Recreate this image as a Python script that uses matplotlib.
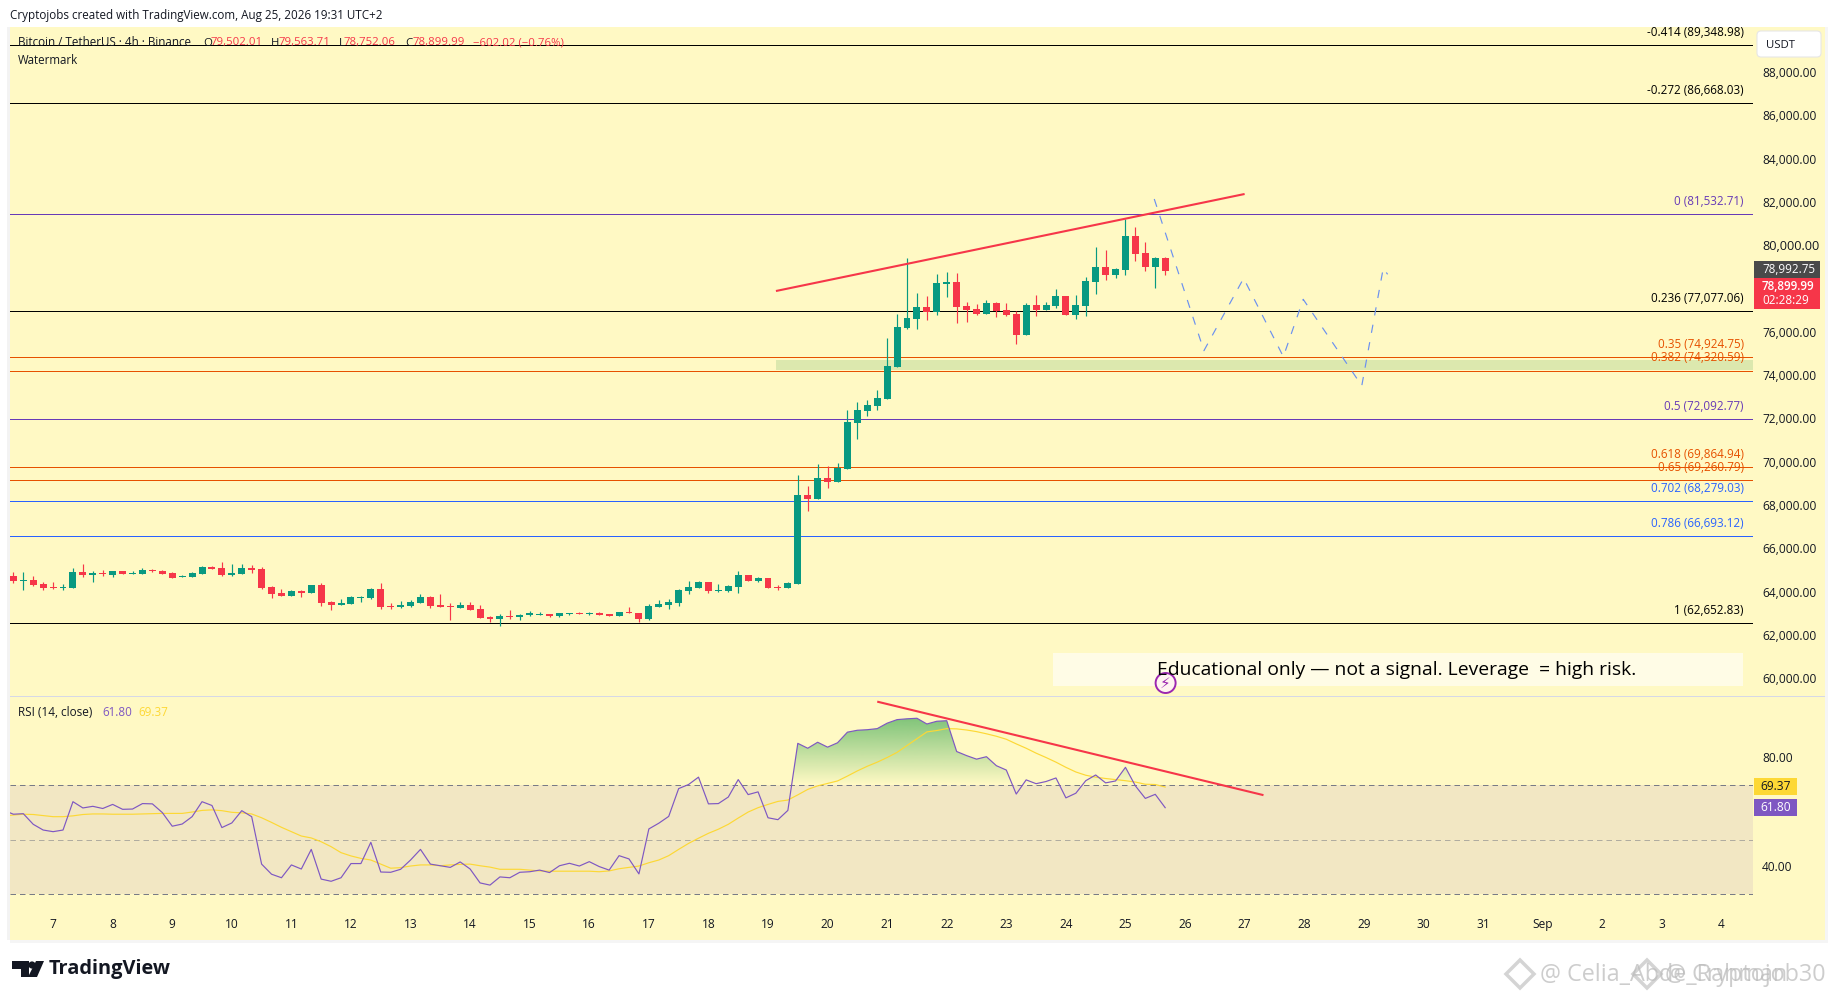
import numpy as np
import matplotlib
matplotlib.use('Agg')
import matplotlib.pyplot as plt
import matplotlib.transforms as mtrans
from matplotlib.patches import Rectangle, FancyBboxPatch, Circle, Polygon
from matplotlib.path import Path

plt.rcParams['font.family'] = ['Open Sans', 'DejaVu Sans']

# 4h candles
opens = [64834, 64618, 64649, 64464, 64326, 64280, 64280, 65018, 64880, 64972, 64880, 65064, 64926, 64926, 65111,
         65064, 64972, 64787, 64787, 64926, 65249, 65203, 64880, 64926, 65203, 65157, 64326, 64049, 63910, 64141,
         64049, 64418, 63633, 63495, 63541, 63818, 63818, 64233, 63449, 63402, 63449, 63587, 63864, 63495, 63449,
         63356, 63495, 63310, 62941, 62848, 62987, 62941, 63033, 63033, 63079, 62987, 63079, 63125, 63079, 63125,
         63079, 62987, 63172, 63125, 62848, 63402, 63495, 63587, 64141, 64279, 64556, 64141, 64141, 64326, 64880,
         64603, 64741, 64326, 64279, 64464, 68573, 68389, 69358, 69173, 69774, 71897, 72451, 72681, 73005, 74483,
         76283, 76699, 77253, 77022, 78315, 78407, 77299, 77161, 76930, 77437, 77114, 76930, 75960, 77345, 77114,
         77299, 77761, 76883, 77299, 78407, 79100, 78730, 78961, 80531, 79746, 79100, 79502.01]
highs = [65018, 65018, 64834, 64557, 64557, 64464, 65203, 65388, 65064, 65111, 65064, 65064, 65064, 65203, 65157,
         65111, 65018, 64880, 65018, 65295, 65295, 65480, 65388, 65388, 65341, 65249, 64372, 64233, 64187, 64187,
         64418, 64510, 63679, 63772, 63910, 63910, 64280, 64510, 63587, 63679, 63726, 64003, 63910, 64003, 63587,
         63633, 63633, 63495, 62987, 63079, 63264, 63079, 63218, 63172, 63079, 63125, 63125, 63172, 63172, 63172,
         63079, 63172, 63402, 63125, 63541, 63725, 63772, 64233, 64603, 64603, 64556, 64464, 64418, 65064, 64880,
         64787, 64741, 64418, 64556, 69497, 68989, 70004, 69912, 70051, 72497, 72866, 72959, 73420, 75822, 76929,
         79515, 77899, 77761, 78776, 78869, 78823, 77484, 77391, 77576, 77484, 77437, 77068, 77437, 77807, 77484,
         78084, 77761, 77807, 78638, 80023, 79885, 79053, 81316, 80946, 80254, 79561, 79563.71]
lows = [64510, 64187, 64372, 64187, 64218, 64187, 64280, 64787, 64557, 64834, 64787, 64926, 64926, 64926, 65018,
        64926, 64741, 64787, 64787, 64926, 65157, 64834, 64834, 64926, 64972, 64233, 63818, 63910, 63910, 63864,
        64049, 63449, 63264, 63495, 63541, 63633, 63772, 63310, 63310, 63356, 63402, 63587, 63356, 63402, 62802,
        63356, 63264, 62895, 62710, 62525, 62848, 62802, 62987, 63033, 62941, 62941, 63033, 63079, 63033, 63033,
        62987, 62987, 63125, 62710, 62802, 63402, 63310, 63448, 64002, 64279, 64049, 64095, 64095, 64049, 64603,
        64556, 64279, 64187, 64279, 64464, 67835, 68389, 68896, 69173, 69774, 71159, 72220, 72497, 73005, 74483,
        76237, 76237, 76653, 76883, 77715, 76514, 76560, 76883, 76930, 76791, 76837, 75545, 75960, 76837, 77114,
        77207, 76883, 76699, 76837, 77853, 78499, 78592, 78730, 79377, 78915, 78130, 78752.06]
closes = [64603, 64649, 64418, 64280, 64280, 64326, 65018, 64880, 64972, 64926, 65064, 64926, 64972, 65111, 65064,
          64926, 64741, 64834, 64972, 65249, 65157, 64880, 64972, 65203, 65111, 64280, 64003, 63910, 64141, 64049,
          64418, 63587, 63495, 63587, 63864, 63864, 64233, 63402, 63402, 63495, 63633, 63864, 63449, 63402, 63402,
          63495, 63264, 62895, 62848, 62987, 62941, 63033, 63125, 63079, 62987, 63125, 63125, 63079, 63125, 63033,
          62987, 63172, 63125, 62848, 63448, 63541, 63633, 64187, 64326, 64556, 64141, 64187, 64372, 64880, 64603,
          64741, 64279, 64279, 64510, 68573, 68389, 69358, 69173, 69820, 71943, 72497, 72728, 73051, 74529, 76329,
          76745, 77253, 77022, 78361, 78407, 77253, 77114, 76930, 77437, 77068, 76883, 75960, 77345, 77114, 77345,
          77761, 76883, 77345, 78453, 79100, 78730, 79007, 80531, 79700, 79100, 79502, 78899.99]

# RSI starts one bar before the first visible candle
rsi_values = [60.9, 59.4, 59.6, 55.7, 53.6, 53.0, 53.6, 64.0, 61.7, 62.3, 61.5, 63.0, 61.2, 61.3, 63.3, 63.2, 60.0, 55.0,
              55.8, 58.5, 64.0, 62.6, 54.5, 56.2, 60.7, 58.5, 41.1, 37.4, 36.1, 40.8, 39.3, 46.5, 35.6, 34.8, 36.1,
              41.3, 41.3, 49.1, 38.2, 38.1, 39.2, 42.6, 46.5, 41.1, 40.5, 39.9, 41.9, 39.3, 34.2, 33.4, 36.4, 36.1,
              38.1, 38.3, 38.9, 38.0, 40.5, 41.4, 40.4, 42.0, 40.2, 38.9, 44.2, 43.0, 37.5, 54.0, 56.1, 58.6, 68.8,
              70.3, 73.0, 63.2, 63.3, 65.7, 72.1, 66.6, 67.6, 58.1, 57.4, 60.8, 85.4, 83.6, 85.8, 84.0, 85.6, 89.5,
              90.2, 90.4, 90.8, 92.8, 94.1, 94.4, 94.6, 92.5, 93.5, 93.7, 82.4, 80.9, 79.6, 80.5, 77.2, 75.6, 66.8,
              72.0, 70.6, 71.4, 72.7, 65.4, 67.1, 71.7, 73.8, 70.9, 71.6, 76.6, 69.8, 65.2, 66.7, 61.8]
rsi_ma = [58.7, 59.1, 59.4, 59.3, 58.9, 58.5, 58.5, 58.8, 59.3, 59.5, 59.5, 59.4, 59.4, 59.4, 59.5, 59.6, 59.7, 59.7,
          59.7, 60.2, 60.8, 61.0, 60.7, 60.1, 59.9, 59.5, 58.1, 56.4, 54.6, 53.0, 51.4, 50.7, 49.3, 47.5, 45.3, 44.1,
          43.2, 42.6, 41.1, 39.6, 39.8, 40.4, 40.8, 40.8, 40.5, 40.8, 41.0, 41.1, 40.5, 40.0, 39.2, 39.2, 39.2, 38.9,
          38.6, 38.5, 38.5, 38.5, 38.5, 38.5, 38.3, 38.6, 39.4, 39.9, 40.4, 41.6, 42.6, 44.2, 46.5, 48.7, 50.6, 52.4,
          53.9, 55.7, 58.0, 60.2, 61.8, 63.0, 64.1, 64.6, 66.5, 68.5, 69.8, 70.7, 71.6, 73.4, 75.3, 77.0, 78.5, 80.2,
          82.1, 84.6, 87.1, 89.6, 90.1, 90.8, 90.7, 90.3, 89.7, 88.9, 88.0, 86.9, 85.2, 83.6, 81.8, 80.2, 78.5, 76.6,
          74.9, 73.7, 73.0, 72.5, 72.1, 71.7, 71.2, 70.4, 70.3, 69.37]

fib_labels = ['-0.414', '-0.272', '0', '0.236', '0.35', '0.382', '0.5', '0.618', '0.65', '0.702', '0.786', '1']
fib_prices = [89348.98, 86668.03, 81532.71, 77077.06, 74924.75, 74320.59, 72092.77, 69864.94, 69260.79, 68279.03,
              66693.12, 62652.83]
fib_colors = ['#000000', '#000000', '#673ab7', '#000000', '#e65100', '#e65100', '#673ab7', '#e65100', '#e65100',
              '#2962ff', '#2962ff', '#000000']

price_ticks = list(range(60000, 90000, 2000))
rsi_ticks = [40, 80]
day_labels = ['7', '8', '9', '10', '11', '12', '13', '14', '15', '16', '17', '18', '19', '20', '21', '22', '23', '24',
              '25', '26', '27', '28', '29', '30', '31', 'Sep', '2', '3', '4']

# hand drawn things on the chart (candle index, price)
trend_x = [76.8, 124.0]
trend_y = [77991, 82470]
path_x = [114.9, 119.9, 123.9, 127.9, 129.9, 135.8, 137.96, 138.4]
path_y = [82239, 75235, 78578, 74958, 77608, 73619, 79040, 78762]
zone_x = 76.8
zone_low, zone_high = 74344, 74805
rsi_trend_x = [87.0, 125.9]
rsi_trend_y = [100.7, 66.4]

GREEN = '#089981'
RED = '#f63649'
YELLOW_BG = '#fff9c4'
W, H = 1835, 1000


def rect(x0, y0, x1, y1):
    # pixel box -> figure fraction, y from the top
    return [x0 / W, 1 - y1 / H, (x1 - x0) / W, (y1 - y0) / H]


fig = plt.figure(figsize=(W / 100, H / 100), dpi=100, facecolor='white')

bg = fig.add_axes([0, 0, 1, 1], zorder=0)
bg.set_xlim(0, W)
bg.set_ylim(H, 0)
bg.axis('off')
bg.add_patch(Rectangle((10, 27), 1815, 913, fc=YELLOW_BG, ec='none'))
bg.add_patch(Rectangle((7, 27), 3, 913, fc='#f3f3f3', ec='none'))
bg.add_patch(Rectangle((1825, 27), 3, 913, fc='#f5f5f5', ec='none'))
bg.add_patch(Rectangle((10, 940), 1818, 3, fc='#f5f5f5', ec='none'))

ax = fig.add_axes(rect(10, 27, 1753, 696), zorder=1, facecolor='none')
ax_rsi = fig.add_axes(rect(10, 697, 1753, 908), zorder=1, facecolor='none')

x = np.arange(len(closes))
o = np.array(opens, dtype=float)
c = np.array(closes, dtype=float)
colors = [GREEN if cc >= oo else RED for oo, cc in zip(o, c)]

ax.vlines(x, lows, highs, colors=colors, linewidth=0.85, zorder=3)
ax.bar(x, np.abs(c - o), bottom=np.minimum(o, c), width=0.7, color=colors, linewidth=0, zorder=3)

ax.add_patch(Rectangle((zone_x, zone_low), 175.2 - zone_x, zone_high - zone_low, fc='#dce8ae', ec='none', zorder=1))

for lab, p, col in zip(fib_labels, fib_prices, fib_colors):
    ax.axhline(p, color=col, linewidth=0.72, zorder=2)
    ax.annotate(f'{lab} ({p:,.2f})', xy=(1744, p), xycoords=('figure pixels', 'data'), xytext=(0, 9.1),
                textcoords='offset points', ha='right', va='center', fontsize=8.4, color=col, zorder=4,
                annotation_clip=False)

ax.plot(trend_x, trend_y, color=RED, linewidth=1.5, zorder=5, solid_capstyle='butt')
ax.plot(path_x, path_y, color='#6a90f0', linewidth=0.85, dashes=(7, 8), zorder=5)

ax.set_xlim(-0.34, 175.2)
ax.set_ylim(59293, 90180)
ax.yaxis.tick_right()
ax.set_yticks(price_ticks)
ax.set_yticklabels([f'{t:,.2f}' for t in price_ticks])
ax.tick_params(axis='y', length=0, pad=6.5, labelsize=8.6, labelcolor='#131722')
ax.tick_params(axis='x', bottom=False, labelbottom=False)
for s in ax.spines.values():
    s.set_visible(False)
up = mtrans.ScaledTranslation(0, 2.3 / 100, fig.dpi_scale_trans)
for t, lab in zip(price_ticks, ax.get_yticklabels()):
    lab.set_transform(lab.get_transform() + up)
    if t == 80000:
        lab.set_fontsize(9.2)

# RSI pane
rsi_x = np.arange(-1, len(closes))
rsi = np.array(rsi_values)
ax_rsi.add_patch(Rectangle((-0.34, 30), 175.54, 40, fc='#f2e7c3', ec='none', zorder=1))
for lvl, col in [(70, '#787b86'), (50, '#b0aca0'), (30, '#787b86')]:
    ax_rsi.axhline(lvl, color=col, linewidth=0.72, dashes=(5.5, 4), zorder=2)

poly = ax_rsi.fill_between(rsi_x, rsi, 70, where=rsi > 70, interpolate=True, color='none')
clip = Path.make_compound_path(*poly.get_paths())
grad = np.zeros((64, 2, 4))
grad[..., 0] = 125 / 255
grad[..., 1] = 195 / 255
grad[..., 2] = 120 / 255
grad[..., 3] = np.linspace(1, 0, 64)[:, None]
im = ax_rsi.imshow(grad, extent=[0, len(x), 70, 95], aspect='auto', zorder=2, interpolation='bilinear')
im.set_clip_path(clip, transform=ax_rsi.transData)

ax_rsi.plot(rsi_x, rsi_ma, color='#fdd835', linewidth=0.85, zorder=3)
ax_rsi.plot(rsi_x, rsi, color='#7e57c2', linewidth=0.85, zorder=4)
ax_rsi.plot(rsi_trend_x, rsi_trend_y, color=RED, linewidth=1.5, zorder=5, solid_capstyle='butt')

ax_rsi.set_xlim(-0.34, 175.2)
ax_rsi.set_ylim(25, 102.4)
ax_rsi.yaxis.tick_right()
ax_rsi.set_yticks(rsi_ticks)
ax_rsi.set_yticklabels([f'{t:.2f}' for t in rsi_ticks])
ax_rsi.tick_params(axis='y', length=0, pad=6.5, labelsize=8.6, labelcolor='#131722')
ax_rsi.set_xticks([4 + 6 * n for n in range(len(day_labels))])
ax_rsi.set_xticklabels(day_labels)
ax_rsi.tick_params(axis='x', length=0, pad=7.5, labelsize=8.6, labelcolor='#131722')
for s in ax_rsi.spines.values():
    s.set_visible(False)
up_rsi = mtrans.ScaledTranslation(0, 1.5 / 100, fig.dpi_scale_trans)
for lab in ax_rsi.get_yticklabels():
    lab.set_transform(lab.get_transform() + up_rsi)

# overlay: header, price tags, logo, watermark (pixel coordinates)
top = fig.add_axes([0, 0, 1, 1], zorder=2, facecolor='none')
top.set_xlim(0, W)
top.set_ylim(H, 0)
top.axis('off')


def txt(px, py, s, color='#131722', size=8.4, ha='left', **kw):
    top.text(px, py, s, color=color, fontsize=size, ha=ha, va='center', **kw)


top.add_patch(Rectangle((10, 696), 1815, 1.2, fc='#d6d8e6', ec='none'))

txt(10, 15, 'Cryptojobs created with TradingView.com, Aug 25, 2026 19:31 UTC+2', size=8.35)
txt(18, 43, 'Bitcoin / TetherUS · 4h · Binance', size=8.4)
txt(18, 60, 'Watermark', size=8.3)
for px, s, col in [(203, 'O', '#131722'), (211, '79,502.01', RED), (271, 'H', '#131722'), (279, '79,563.71', RED),
                   (339, 'L', '#131722'), (344, '78,752.06', RED), (405, 'C', '#131722'), (413, '78,899.99', RED),
                   (473, '−602.02 (−0.76%)', RED)]:
    txt(px, 43, s, color=col, size=8.2)
txt(18, 712, 'RSI (14, close)', size=8.5)
txt(102, 712, '61.80', color='#7e57c2', size=8.4)
txt(138, 712, '69.37', color='#fdd835', size=8.4)

top.add_patch(FancyBboxPatch((1759, 33), 60, 22, boxstyle='round,pad=2,rounding_size=4', fc='white', ec='#e6e6e6', lw=0.8))
txt(1766, 45.5, 'USDT', size=8.2)

top.add_patch(Rectangle((1754, 261), 66, 17, fc='#4a4a4a', ec='none'))
txt(1762, 269.5, '78,992.75', color='white', size=8.4)
top.add_patch(Rectangle((1754, 278), 66, 31, fc=RED, ec='none'))
txt(1762, 286, '78,899.99', color='white', size=8.4, fontweight='semibold')
txt(1762, 300.5, '02:28:29', color='white', size=8.4)

top.add_patch(Rectangle((1754, 778), 43, 17, fc='#fdd835', ec='none'))
txt(1775.5, 786.5, '69.37', ha='center', size=8.6)
top.add_patch(Rectangle((1754, 799), 43, 17, fc='#7e57c2', ec='none'))
txt(1775.5, 807.5, '61.80', color='white', ha='center', size=8.6)

top.add_patch(Rectangle((1053, 653), 690, 33, fc='#fffce6', ec='none'))
txt(1157, 670, 'Educational only — not a signal. Leverage  = high risk.', color='#000000', size=13.85)
top.add_patch(Circle((1165.6, 683), 10, fc='#fff3f0', ec='#9c27b0', lw=1.4))
top.text(1165.6, 683, '⚡', color='#9c27b0', fontsize=11, ha='center', va='center', family='DejaVu Sans')

# TradingView logo
top.add_patch(Polygon([(12, 961), (29, 961), (29, 977), (21, 977), (21, 969), (12, 969)], fc='#131722', ec='none'))
top.add_patch(Circle((32, 965), 3.6, fc='#131722', ec='none'))
top.add_patch(Polygon([(36, 961), (44, 961), (37, 977), (28, 977)], fc='#131722', ec='none'))
txt(49, 969, 'TradingView', color='#131722', size=14.4, fontweight='bold')

# repost watermarks, two overlapping
for px in (1520, 1647):
    top.add_patch(Polygon([(px, 960), (px + 14, 974), (px, 988), (px - 14, 974)], fc='none', ec='#d4d4d4', lw=2.5))
txt(1540, 975, '@ Celia_Abde_Rahman', color='#bdbdbd', size=16.8, alpha=0.75)
txt(1665, 975, '@ Cryptojob30', color='#bdbdbd', size=16.8, alpha=0.75)

fig.savefig('out.png', dpi=100)
